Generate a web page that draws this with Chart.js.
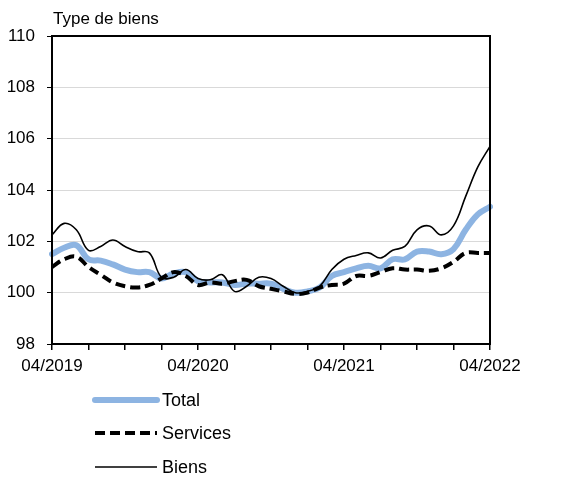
<!DOCTYPE html>
<html>
<head>
<meta charset="utf-8">
<script src="https://cdn.jsdelivr.net/npm/chart.js@4.4.0/dist/chart.umd.min.js"></script>
<style>
html,body{margin:0;padding:0;background:#fff;}
#wrap{width:561px;height:477px;}
</style>
</head>
<body>
<div id="wrap"><canvas id="chart" width="561" height="477"></canvas></div>
<script>
// monthly index, 04/2019 -> 04/2022
const months = [
  "04/2019","05/2019","06/2019","07/2019","08/2019","09/2019","10/2019","11/2019","12/2019",
  "01/2020","02/2020","03/2020","04/2020","05/2020","06/2020","07/2020","08/2020","09/2020",
  "10/2020","11/2020","12/2020","01/2021","02/2021","03/2021","04/2021","05/2021","06/2021",
  "07/2021","08/2021","09/2021","10/2021","11/2021","12/2021","01/2022","02/2022","03/2022","04/2022"
];
const labelMonths = ["04/2019","04/2020","04/2021","04/2022"];

const total = [101.5,101.75,101.85,101.3,101.25,101.1,100.9,100.8,100.8,100.55,100.75,100.8,
  100.45,100.4,100.4,100.3,100.35,100.35,100.35,100.15,100.0,100.05,100.2,100.65,
  100.8,100.95,101.05,100.95,101.3,101.3,101.6,101.6,101.5,101.7,102.45,103.05,103.35];
const services = [101.0,101.3,101.4,101.0,100.7,100.4,100.25,100.2,100.3,100.55,100.8,100.65,
  100.3,100.4,100.35,100.45,100.5,100.25,100.15,100.05,99.95,100.0,100.2,100.3,
  100.35,100.65,100.65,100.8,100.95,100.9,100.9,100.85,100.95,101.2,101.55,101.55,101.55];
const biens = [102.25,102.7,102.45,101.65,101.8,102.05,101.8,101.6,101.55,100.6,100.6,100.9,
  100.55,100.5,100.7,100.05,100.25,100.6,100.55,100.25,100.0,100.05,100.25,100.9,
  101.3,101.45,101.55,101.35,101.65,101.8,102.45,102.6,102.25,102.6,103.75,104.9,105.7];

const axisTitle = "Type de biens";
const FONT = "Arial, 'Liberation Sans', sans-serif";

// frame, title and a stacked legend under the plot
const extras = {
  id: "extras",
  afterDraw(chart){
    const {ctx, chartArea:a} = chart;
    ctx.save();
    ctx.strokeStyle = "#000";
    ctx.lineWidth = 2;
    ctx.strokeRect(a.left, a.top, a.right - a.left, a.bottom - a.top);

    ctx.fillStyle = "#000";
    ctx.font = "17px " + FONT;
    ctx.textBaseline = "alphabetic";
    ctx.textAlign = "left";
    ctx.fillText(axisTitle, 53, 24);

    ctx.font = "18px " + FONT;
    const rows = [400, 433, 467];
    chart.data.datasets.forEach((ds, i) => {
      const y = rows[i];
      ctx.beginPath();
      ctx.strokeStyle = ds.borderColor;
      ctx.lineWidth = ds.borderWidth;
      ctx.setLineDash(ds.borderDash || []);
      ctx.lineCap = ds.borderCapStyle || "butt";
      ctx.moveTo(95, y);
      ctx.lineTo(157, y);
      ctx.stroke();
      ctx.setLineDash([]);
      ctx.fillStyle = "#000";
      ctx.textBaseline = "middle";
      ctx.fillText(ds.label, 162, y + 1);
    });
    ctx.restore();
  }
};

new Chart(document.getElementById("chart"), {
  type: "line",
  data: {
    labels: months,
    datasets: [
      { label: "Total", data: total, borderColor: "#8db4e2", borderWidth: 6,
        borderCapStyle: "round", order: 3 },
      { label: "Services", data: services, borderColor: "#000", borderWidth: 4,
        borderDash: [10, 5], order: 2 },
      { label: "Biens", data: biens, borderColor: "#000", borderWidth: 1.6, order: 1 }
    ]
  },
  options: {
    responsive: false,
    animation: false,
    layout: { padding: { top: 36, right: 71, bottom: 0, left: 0 } },
    elements: { point: { radius: 0 }, line: { tension: 0.4, fill: false } },
    plugins: { legend: { display: false }, tooltip: { enabled: false } },
    scales: {
      x: {
        afterFit(s){ s.height = 133; },
        grid: {
          drawOnChartArea: false,
          tickLength: 6,
          lineWidth: 1.5,
          tickColor: c => (c.index % 3 === 0 ? "#000" : "transparent")
        },
        border: { color: "#000", width: 2 },
        ticks: {
          autoSkip: false,
          maxRotation: 0,
          padding: 6,
          color: "#000",
          font: { size: 17, family: FONT },
          callback(v, i){ const l = months[i]; return labelMonths.includes(l) ? l : ""; }
        }
      },
      y: {
        min: 98, max: 110,
        afterFit(s){ s.width = 52; },
        grid: { color: "#d9d9d9", lineWidth: 1, tickLength: 5, tickColor: "#000" },
        border: { color: "#000", width: 2 },
        ticks: { stepSize: 2, padding: 12, color: "#000", font: { size: 17, family: FONT } }
      }
    }
  },
  plugins: [extras]
});
</script>
</body>
</html>
